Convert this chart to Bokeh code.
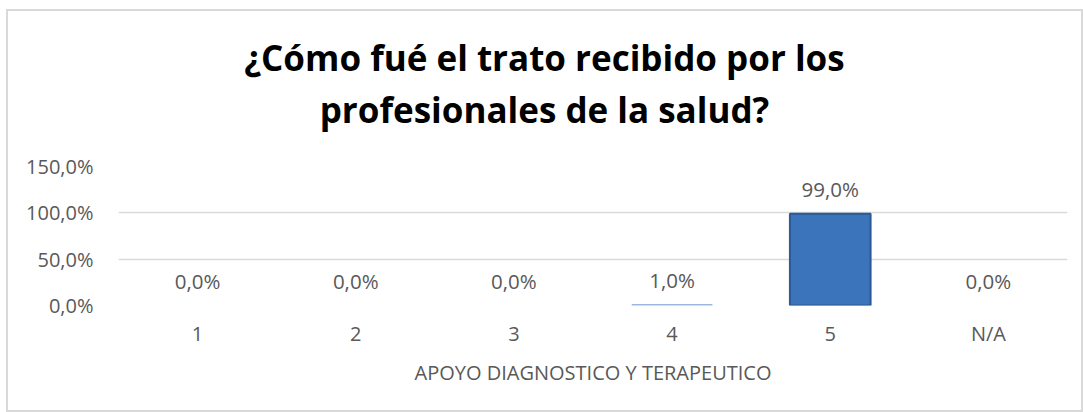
from bokeh.plotting import figure
from bokeh.models import ColumnDataSource, CustomJSTickFormatter, Div
from bokeh.layouts import column
from bokeh.core.properties import value
from bokeh.embed import file_html
from bokeh.resources import INLINE

categories = ["1", "2", "3", "4", "5", "N/A"]
values = [0.0, 0.0, 0.0, 0.01, 0.99, 0.0]
labels = ["0,0%", "0,0%", "0,0%", "1,0%", "99,0%", "0,0%"]
title_lines = ["¿Cómo fué el trato recibido por los", "profesionales de la salud?"]
x_title = "APOYO DIAGNOSTICO Y TERAPEUTICO"

FONT = "Open Sans"
GREY = "#595959"
W = 1073
DIV_H = 135

line_alpha = [1.0 if v >= 0.05 else 0.0 for v in values]
src = ColumnDataSource(dict(cat=categories, val=values, lab=labels, la=line_alpha))

title_div = Div(
    text=("<div style=\"font-family:'Open Sans';font-weight:bold;font-size:35px;line-height:52px;"
          "color:black;text-align:center;width:%dpx;padding-top:21px;padding-left:8px;"
          "white-space:nowrap;\">%s<br>%s</div>"
          % (W - 8, title_lines[0], title_lines[1])),
    width=W, height=DIV_H, styles={"margin": "0", "padding": "0"})

p = figure(x_range=categories, y_range=(0, 1.5), width=W, height=399 - DIV_H,
           output_backend="svg", toolbar_location=None,
           min_border_left=110, min_border_right=14, min_border_top=20, min_border_bottom=105)
p.outline_line_color = None
p.background_fill_color = "white"
p.border_fill_color = "white"

p.vbar(x="cat", top="val", width=0.51, source=src, fill_color="#3b74bb",
       line_color="#2b5a96", line_width=2, line_alpha="la")
p.text(x="cat", y="val", text="lab", source=src, text_align="center",
       text_baseline="bottom", y_offset=-11, text_font=value(FONT),
       text_font_size="20.5px", text_color=GREY)

p.yaxis.ticker = [0, 0.5, 1.0, 1.5]
p.yaxis.formatter = CustomJSTickFormatter(code="return (tick*100).toFixed(1).replace('.', ',') + '%';")
for ax in (p.xaxis, p.yaxis):
    ax.axis_line_color = None
    ax.major_tick_line_color = None
    ax.minor_tick_line_color = None
    ax.major_label_text_font = FONT
    ax.major_label_text_font_size = "20px"
    ax.major_label_text_color = GREY
p.yaxis.major_label_standoff = 19
p.xaxis.major_label_standoff = 8
p.xaxis.axis_label = x_title
p.xaxis.axis_label_text_font = FONT
p.xaxis.axis_label_text_font_size = "20px"
p.xaxis.axis_label_text_font_style = "normal"
p.xaxis.axis_label_text_color = GREY
p.xaxis.axis_label_standoff = 9

p.xgrid.grid_line_color = None
p.ygrid.grid_line_color = "#d9d9d9"
p.ygrid.grid_line_width = 1.5

layout = column(title_div, p, spacing=0,
                styles={"border": "2px solid #d9d9d9", "margin-left": "6px",
                        "margin-top": "9px", "background-color": "white"})

open("out.html", "w").write(file_html(layout, INLINE))
